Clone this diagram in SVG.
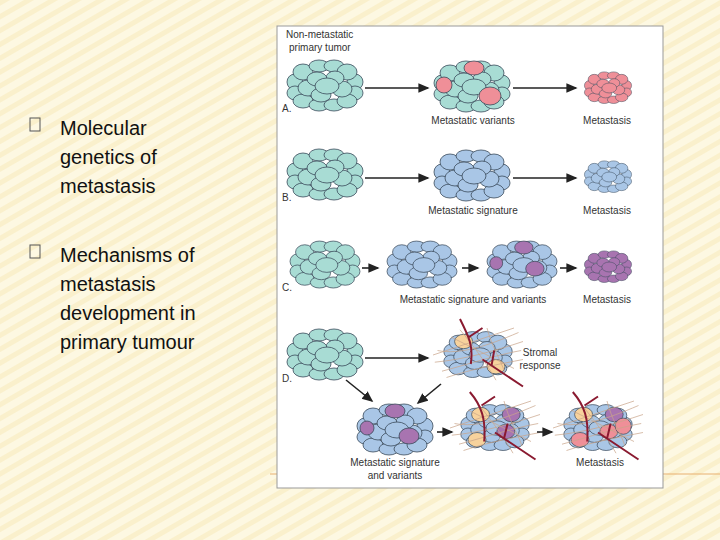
<svg xmlns="http://www.w3.org/2000/svg" width="720" height="540" viewBox="0 0 720 540">
<defs>
<style>
.t{font-family:"Liberation Sans",Arial,sans-serif;font-size:20px;fill:#111}
.s{font-family:"Liberation Sans",Arial,sans-serif;font-size:10px;fill:#333}
.ol{stroke:#3a4a5a;stroke-width:0.8}
.g{fill:#a8dcd4}.b{fill:#a9c6e6}.r{fill:#ef8f98}.m{fill:#a874b0}
.ar{stroke:#222;stroke-width:1.6;fill:none;marker-end:url(#ah)}
.fib{stroke:#c9a48a;stroke-width:0.8;fill:none}
.ves{stroke:#8a1a30;stroke-width:2.2;fill:none}
</style>
<pattern id="bg" width="12" height="12" patternUnits="userSpaceOnUse" patternTransform="rotate(60)">
<rect width="12" height="12" fill="#fdf8e2"/><rect width="5" height="12" fill="#faf0cc"/>
</pattern>
<marker id="ah" markerWidth="8" markerHeight="8" refX="6" refY="3" orient="auto" markerUnits="strokeWidth"><path d="M0,0 L7,3 L0,6 z" fill="#222"/></marker>
<g id="cl" class="ol">
<ellipse cx="-30" cy="-4" rx="8" ry="8"/><ellipse cx="30" cy="-4" rx="8" ry="8"/><ellipse cx="-30" cy="7" rx="8" ry="7"/><ellipse cx="30" cy="7" rx="8" ry="7"/>
<ellipse cx="-22" cy="-14" rx="10" ry="8"/><ellipse cx="-6" cy="-20" rx="10" ry="6"/><ellipse cx="9" cy="-20" rx="10" ry="6"/><ellipse cx="22" cy="-14" rx="10" ry="8"/>
<ellipse cx="-22" cy="15" rx="10" ry="7"/><ellipse cx="-6" cy="19" rx="10" ry="6"/><ellipse cx="9" cy="19" rx="10" ry="6"/><ellipse cx="22" cy="15" rx="10" ry="7"/>
<ellipse cx="-17" cy="2" rx="10" ry="8"/><ellipse cx="17" cy="3" rx="10" ry="8"/><ellipse cx="-4" cy="9" rx="10" ry="7"/><ellipse cx="10" cy="-8" rx="9" ry="7"/><ellipse cx="-8" cy="-7" rx="10" ry="7"/><ellipse cx="2" cy="0" rx="12" ry="8"/>
</g>
<g id="fibers" class="fib">
<path d="M-45,-5 C-20,0 10,-10 45,-25"/><path d="M-48,8 C-15,5 20,-5 50,-15"/><path d="M-40,18 C-10,10 20,0 48,-5"/>
<path d="M-30,-20 C0,-5 20,5 40,15"/><path d="M-50,0 C-20,-10 10,-20 40,-30"/><path d="M-35,25 C-5,15 25,10 50,5"/>
<path d="M-20,-28 C-5,-10 10,10 20,28"/><path d="M10,-30 C15,-10 25,5 30,20"/>
</g>
</defs>
<rect width="720" height="540" fill="url(#bg)"/>
<line x1="270" y1="474" x2="720" y2="474" stroke="#e8b070" stroke-width="1"/>

<g id="bullets">
<rect x="30" y="118" width="10" height="13" fill="none" stroke="#555" stroke-width="1"/>
<text class="t" x="60" y="135">Molecular</text><text class="t" x="60" y="164">genetics of</text><text class="t" x="60" y="193">metastasis</text>
<rect x="30" y="245" width="10" height="13" fill="none" stroke="#555" stroke-width="1"/>
<text class="t" x="60" y="262">Mechanisms of</text><text class="t" x="60" y="291">metastasis</text><text class="t" x="60" y="320">development in</text><text class="t" x="60" y="349">primary tumour</text>
</g>

<g id="figure">
<rect x="277" y="26" width="386" height="462" fill="#fff" stroke="#999" stroke-width="1"/>
<text class="s" x="286" y="38">Non-metastatic</text><text class="s" x="289" y="51">primary tumor</text>
</g>

<g id="rowA">
<use href="#cl" class="g" x="325" y="86"/>
<g transform="translate(472,87)"><use href="#cl" class="g"/>
<ellipse cx="2" cy="-19" rx="10" ry="7" class="r ol"/><ellipse cx="-28" cy="-2" rx="8" ry="8" class="r ol"/><ellipse cx="18" cy="9" rx="11" ry="9" class="r ol"/></g>
<use href="#cl" class="r" transform="translate(608,88) scale(0.62)"/>
<text class="s" x="282" y="112">A.</text>
<text class="s" x="473" y="124" text-anchor="middle">Metastatic variants</text>
<text class="s" x="607" y="124" text-anchor="middle">Metastasis</text>
</g>
<g id="rowB">
<use href="#cl" class="g" x="325" y="175"/>
<use href="#cl" class="b" x="472" y="176"/>
<use href="#cl" class="b" transform="translate(608,177) scale(0.62)"/>
<text class="s" x="282" y="201">B.</text>
<text class="s" x="473" y="214" text-anchor="middle">Metastatic signature</text>
<text class="s" x="607" y="214" text-anchor="middle">Metastasis</text>
</g>
<g id="rowC">
<use href="#cl" class="g" transform="translate(325,265) scale(0.92)"/>
<use href="#cl" class="b" transform="translate(422,265) scale(0.92)"/>
<g transform="translate(522,265) scale(0.92)"><use href="#cl" class="b"/>
<ellipse cx="2" cy="-19" rx="10" ry="7" class="m ol"/><ellipse cx="-28" cy="-2" rx="7" ry="7" class="m ol"/><ellipse cx="14" cy="4" rx="10" ry="8" class="m ol"/></g>
<use href="#cl" class="m" transform="translate(608,267) scale(0.62)"/>
<text class="s" x="282" y="291">C.</text>
<text class="s" x="473" y="303" text-anchor="middle">Metastatic signature and variants</text>
<text class="s" x="607" y="303" text-anchor="middle">Metastasis</text>
</g>
<g id="rowD">
<use href="#cl" class="g" x="325" y="355"/>
<g transform="translate(478,355) scale(0.9)"><use href="#cl" class="b"/>
<ellipse cx="-16" cy="-15" rx="10" ry="8" fill="#f7d29c" class="ol"/><ellipse cx="20" cy="13" rx="10" ry="8" fill="#f7d29c" class="ol"/>
<use href="#fibers"/><path class="ves" d="M-20,-40 C-10,-20 -5,-10 -8,10 M-10,-20 L5,-30 M5,5 C20,15 35,25 50,35 M15,12 L18,-5"/></g>
<text class="s" x="540" y="356" text-anchor="middle">Stromal</text><text class="s" x="540" y="369" text-anchor="middle">response</text>
<text class="s" x="282" y="382">D.</text>
<g transform="translate(395,430)"><use href="#cl" class="b"/>
<ellipse cx="0" cy="-19" rx="10" ry="7" class="m ol"/><ellipse cx="-28" cy="-2" rx="7" ry="7" class="m ol"/><ellipse cx="14" cy="6" rx="10" ry="8" class="m ol"/></g>
<g transform="translate(495,428) scale(0.9)"><use href="#cl" class="b"/>
<ellipse cx="-16" cy="-15" rx="10" ry="8" fill="#f7d29c" class="ol"/><ellipse cx="18" cy="-15" rx="10" ry="8" class="m ol"/><ellipse cx="12" cy="4" rx="10" ry="8" class="m ol"/><ellipse cx="-20" cy="13" rx="10" ry="8" fill="#f7d29c" class="ol"/>
<use href="#fibers"/><path class="ves" d="M-28,-40 C-15,-25 -10,-10 -12,15 M-15,-25 L0,-35 M0,5 C15,15 30,25 45,35 M10,12 L14,-5"/></g>
<g transform="translate(598,428) scale(0.9)"><use href="#cl" class="b"/>
<ellipse cx="-16" cy="-15" rx="10" ry="8" fill="#f7d29c" class="ol"/><ellipse cx="18" cy="-15" rx="10" ry="8" class="m ol"/><ellipse cx="12" cy="4" rx="10" ry="8" class="r ol"/><ellipse cx="-20" cy="13" rx="10" ry="8" class="r ol"/><ellipse cx="28" cy="-2" rx="9" ry="9" class="r ol"/>
<use href="#fibers"/><path class="ves" d="M-28,-40 C-15,-25 -10,-10 -12,15 M-15,-25 L0,-35 M0,5 C15,15 30,25 45,35 M10,12 L14,-5"/></g>
<text class="s" x="395" y="466" text-anchor="middle">Metastatic signature</text><text class="s" x="395" y="479" text-anchor="middle">and variants</text>
<text class="s" x="600" y="466" text-anchor="middle">Metastasis</text>
</g>

<g id="connectors">
<line class="ar" x1="365" y1="88" x2="428" y2="88"/><line class="ar" x1="513" y1="88" x2="576" y2="88"/>
<line class="ar" x1="365" y1="178" x2="428" y2="178"/><line class="ar" x1="513" y1="178" x2="576" y2="178"/>
<line class="ar" x1="362" y1="268" x2="378" y2="268"/><line class="ar" x1="462" y1="268" x2="478" y2="268"/><line class="ar" x1="560" y1="268" x2="576" y2="268"/>
<line class="ar" x1="365" y1="358" x2="428" y2="358"/>
<line class="ar" x1="346" y1="380" x2="372" y2="401"/><line class="ar" x1="441" y1="384" x2="418" y2="403"/>
<line class="ar" x1="437" y1="432" x2="452" y2="432"/><line class="ar" x1="537" y1="432" x2="552" y2="432"/>
</g>
</svg>
